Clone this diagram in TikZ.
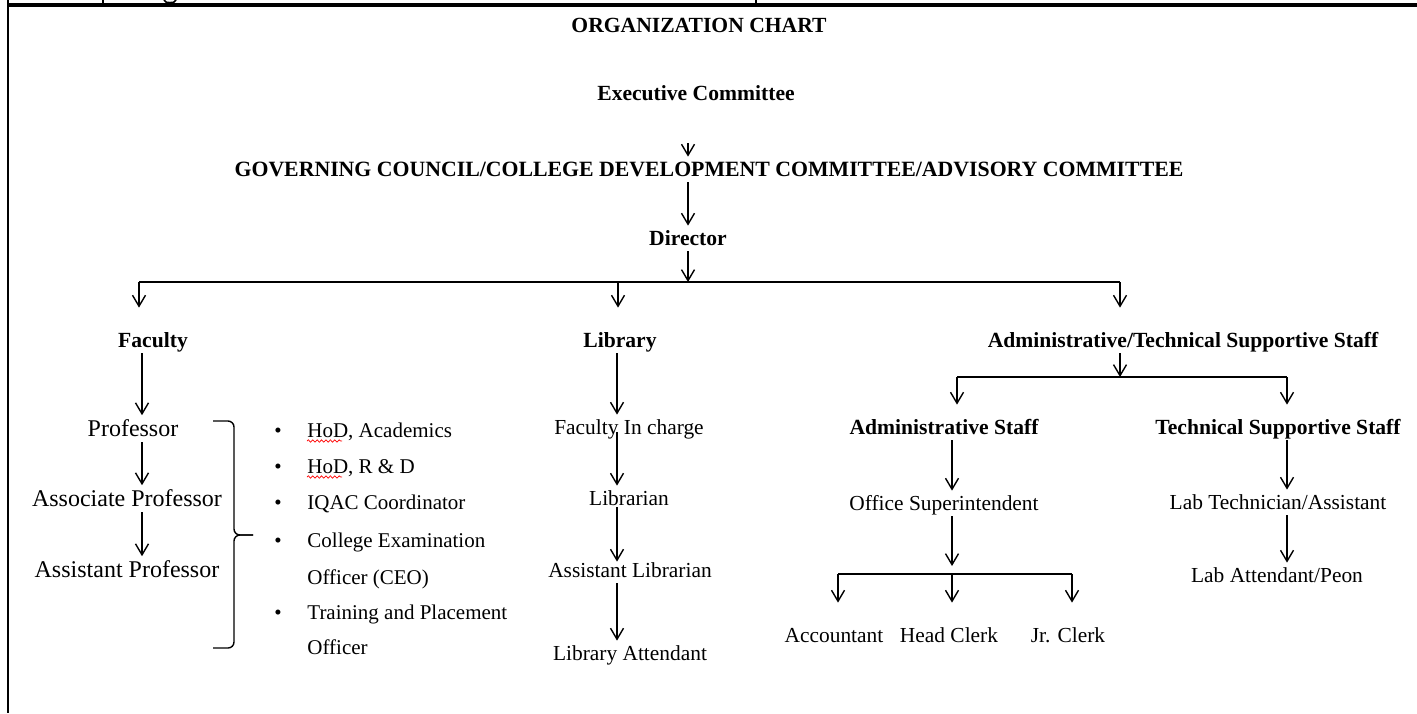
\documentclass[tikz,border=0pt]{standalone}
\usepackage{fontspec}
\setmainfont{Liberation Serif}
\usetikzlibrary{arrows.meta,decorations.pathmorphing}
\begin{document}
\begin{tikzpicture}[x=0.5pt,y=-0.5pt,
  base/.style={inner xsep=0pt, inner ysep=2pt, text height=7.5pt, text depth=1pt, anchor=base},
  hd/.style={base, font=\fontsize{10.8}{13}\selectfont\bfseries},
  tx/.style={base, font=\fontsize{10.7}{13}\selectfont},
  pf/.style={base, text height=8.2pt, font=\fontsize{12}{14}\selectfont},
  item/.style={base, anchor=base west, font=\fontsize{10.5}{13}\selectfont},
  ln/.style={line width=0.7pt},
  arr/.style={line width=0.7pt, -{Straight Barb[length=5.5pt,width=6.5pt]}},
  frame/.style={line width=1pt},
  spell/.style={red, line width=0.35pt, decorate, decoration={snake, amplitude=0.6pt, segment length=2.2pt}}]
\useasboundingbox (0,0) rectangle (1417,713);
\fill[white] (0,0) rectangle (1417,713);
% table frame
\draw[frame] (8,0) -- (8,713);
\draw[line width=1.6pt] (8,5) -- (1417,5);
\draw[frame] (103,0) -- (103,5);
\draw[frame] (756,0) -- (756,5);
% cut-off descender fragment in the upper cell
\draw[line width=0.8pt] (164,0) to[out=-80,in=180] (170,2.6) to[out=0,in=-100] (176,0);

% top
\node[hd] (title) at (699,32) {ORGANIZATION CHART};
\node[hd] (exec) at (696,100) {Executive Committee};
\node[hd, font=\fontsize{10.9}{13}\selectfont\bfseries] (gov) at (709,176) {GOVERNING COUNCIL/COLLEGE DEVELOPMENT COMMITTEE/ADVISORY COMMITTEE};
\node[hd] (dir) at (688,245) {Director};

\coordinate (axD) at (688,0);
\coordinate (e1) at (688,143);
\draw[arr] (e1) -- (gov.north -| e1);
\draw[arr] (gov.south -| axD) -- (dir.north -| axD);
\coordinate (J0) at (688,282);
\draw[arr] (dir.south -| axD) -- (J0);

% level 2 headers
\node[hd] (fac) at (153,347) {Faculty};
\node[hd] (lib) at (620,347) {Library};
\node[hd] (adm) at (1183,347) {Administrative/Technical Supportive Staff};

\coordinate (hl) at (139,282);
\coordinate (hm) at (618,282);
\coordinate (hr) at (1120,282);
\draw[ln] (hl) -- (hr);
\draw[arr, shorten >=10pt] (hl) -- (hl |- fac.north);
\draw[arr, shorten >=10pt] (hm) -- (hm |- lib.north);
\draw[arr, shorten >=10pt] (hr) -- (hr |- adm.north);

% faculty column
\node[pf] (prof) at (133,436) {Professor};
\node[pf] (assoc) at (127,506) {Associate Professor};
\node[pf] (asst) at (127,577) {Assistant Professor};
\coordinate (axF) at (142,0);
\draw[arr] (fac.south -| axF) -- (prof.north -| axF);
\draw[arr] (prof.south -| axF) -- (assoc.north -| axF);
\draw[arr] (assoc.south -| axF) -- (asst.north -| axF);

% bracket
\draw[ln, rounded corners=3pt] (213,421) -- (234,421) -- (234,535) -- (253,535);
\draw[ln, rounded corners=3pt] (253,535) -- (234,535) -- (234,648) -- (213,648);

% items
\foreach \yy/\nm/\txt in {437/i1/{HoD, Academics}, 473/i2/{HoD, R \& D}, 509/i3/{IQAC Coordinator}, 547/i4/{College Examination}, 619/i6/{Training and Placement}}{
  \node[item] (b\nm) at (274,\yy) {\textbullet};
  \node[item] (\nm) at (307,\yy) {\txt};
}
\node[item] (i5) at (307,584) {Officer (CEO)};
\node[item] (i7) at (307,654) {Officer};
\draw[spell] ([yshift=-2pt]i1.base west) -- ++(35,0);
\draw[spell] ([yshift=-2pt]i2.base west) -- ++(35,0);

% library column
\node[tx] (fic) at (629,434) {Faculty In charge};
\node[tx] (libr) at (629,505) {Librarian};
\node[tx] (alib) at (630,577) {Assistant Librarian};
\node[tx] (latt) at (630,660) {Library Attendant};
\coordinate (axL) at (617,0);
\draw[arr] (lib.south -| axL) -- (fic.north -| axL);
\draw[arr, shorten <=-4pt] (fic.south -| axL) -- (libr.north -| axL);
\draw[arr, shorten <=-2pt, shorten >=-2pt] (libr.south -| axL) -- (alib.north -| axL);
\draw[arr] (alib.south -| axL) -- (latt.north -| axL);

% admin/technical
\coordinate (J2) at (1120,377);
\draw[arr] (adm.south -| J2) -- (J2);
\coordinate (h2l) at (957,377);
\coordinate (h2r) at (1287,377);
\draw[ln] (h2l) -- (h2r);
\node[hd] (as) at (944,434) {Administrative Staff};
\node[hd] (tss) at (1278,434) {Technical Supportive Staff};
\draw[arr, shorten >=5pt] (h2l) -- (h2l |- as.north);
\draw[arr, shorten >=5pt] (h2r) -- (h2r |- tss.north);

\node[tx] (os) at (944,510) {Office Superintendent};
\coordinate (axA) at (952,0);
\draw[arr] (as.south -| axA) -- (os.north -| axA);
\coordinate (J3) at (952,574);
\draw[arr, shorten >=4pt] (os.south -| axA) -- (J3);
\coordinate (h3l) at (838,574);
\coordinate (h3r) at (1072,574);
\draw[ln] (h3l) -- (h3r);
\node[tx] (acc) at (834,642) {Accountant};
\node[tx] (hc) at (949,642) {Head Clerk};
\node[tx] (jc) at (1068,642) {Jr. Clerk};
\draw[arr, shorten >=10pt] (h3l) -- (h3l |- acc.north);
\draw[arr, shorten >=10pt] (J3) -- (J3 |- hc.north);
\draw[arr, shorten >=10pt] (h3r) -- (h3r |- jc.north);

\node[tx] (labt) at (1278,509) {Lab Technician/Assistant};
\node[tx] (lpeon) at (1277,582) {Lab Attendant/Peon};
\coordinate (axT) at (1287,0);
\draw[arr] (tss.south -| axT) -- (labt.north -| axT);
\draw[arr] (labt.south -| axT) -- (lpeon.north -| axT);
\end{tikzpicture}
\end{document}
